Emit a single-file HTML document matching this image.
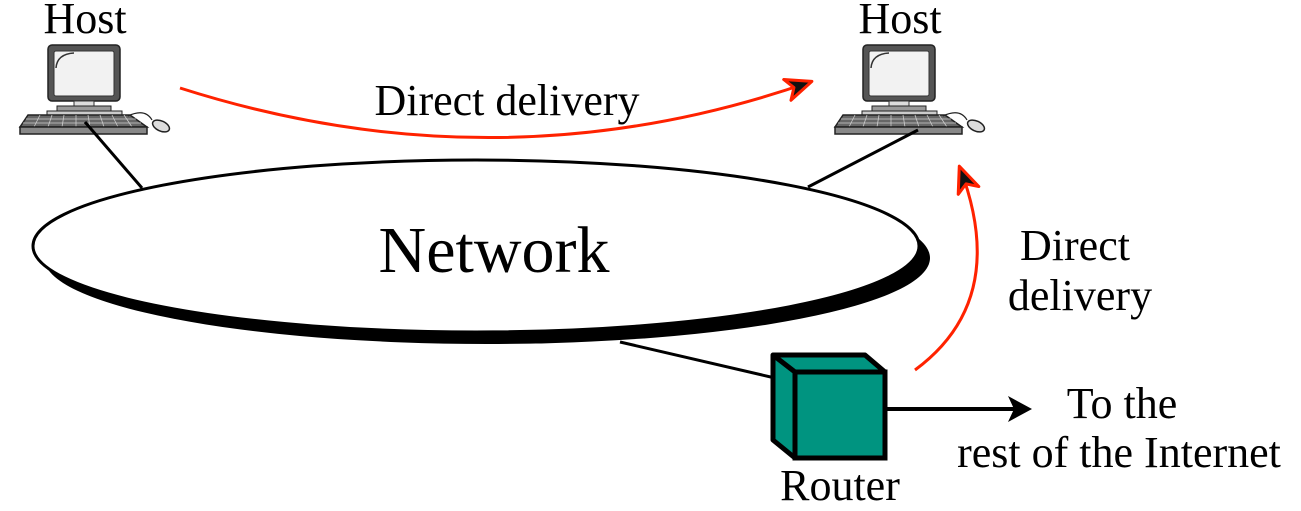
<!DOCTYPE html>
<html><head><meta charset="utf-8"><style>
html,body{margin:0;padding:0;background:#fff;width:1301px;height:511px;overflow:hidden}
svg{display:block}
text{font-family:"Liberation Serif",serif;fill:#000}
</style></head><body>
<svg width="1301" height="511" viewBox="0 0 1301 511" xmlns="http://www.w3.org/2000/svg">
<defs>
<g id="host">
  <rect x="48" y="45" width="72" height="56" rx="4" fill="#555" stroke="#222" stroke-width="1.5"/>
  <rect x="54" y="51" width="60" height="45" rx="2" fill="#f2f2f2" stroke="#333" stroke-width="1"/>
  <path d="M56 68 Q57 54 74 53" fill="none" stroke="#333" stroke-width="1.5"/>
  <rect x="74" y="101" width="20" height="6" fill="#ddd" stroke="#333"/>
  <rect x="57" y="106" width="54" height="5" fill="#999" stroke="#222"/>
  <rect x="47" y="111" width="75" height="5" fill="#ccc" stroke="#222"/>
  <polygon points="28,115 130,115 147,127 20,127" fill="#666" stroke="#222" stroke-width="1.5"/>
  <g stroke="#ccc" stroke-width="0.8">
    <line x1="26" y1="119" x2="136" y2="119"/><line x1="23" y1="123" x2="141" y2="123"/>
    <line x1="40" y1="115" x2="34" y2="127"/><line x1="52" y1="115" x2="48" y2="127"/>
    <line x1="64" y1="115" x2="62" y2="127"/><line x1="76" y1="115" x2="76" y2="127"/>
    <line x1="88" y1="115" x2="90" y2="127"/><line x1="100" y1="115" x2="104" y2="127"/>
    <line x1="112" y1="115" x2="118" y2="127"/><line x1="124" y1="115" x2="132" y2="127"/>
  </g>
  <rect x="20" y="127" width="127" height="7" fill="#888" stroke="#222" stroke-width="1.5"/>
  <path d="M128 116 Q145 108 152 120" fill="none" stroke="#222" stroke-width="1.2"/>
  <ellipse cx="161" cy="126" rx="9" ry="5" transform="rotate(25 161 126)" fill="#ddd" stroke="#222" stroke-width="1.5"/>
</g>
<marker id="ah" markerWidth="30" markerHeight="26" refX="26" refY="13" orient="auto" markerUnits="userSpaceOnUse" viewBox="0 0 30 26">
  <path d="M2,2 L28,13 L2,24 L9,13 Z" fill="#111" stroke="#f20" stroke-width="3" stroke-linejoin="round"/>
</marker>
</defs>

<text x="85" y="33" font-size="44" text-anchor="middle">Host</text>
<text x="900" y="33" font-size="44" text-anchor="middle">Host</text>
<use href="#host"/>
<use href="#host" transform="translate(815,0)"/>

<line x1="85" y1="122" x2="142" y2="188" stroke="#000" stroke-width="3"/>
<line x1="918" y1="130" x2="808" y2="187" stroke="#000" stroke-width="3"/>
<line x1="620" y1="342" x2="775" y2="378" stroke="#000" stroke-width="3"/>

<ellipse cx="487" cy="258" rx="443" ry="86" fill="#000"/>
<ellipse cx="476" cy="246" rx="443" ry="86" fill="#fff" stroke="#000" stroke-width="3"/>
<text x="494" y="272" font-size="66" text-anchor="middle">Network</text>

<path d="M180 88 Q500 190 810 82" fill="none" stroke="#f20" stroke-width="3" marker-end="url(#ah)"/>
<text x="507" y="115" font-size="44" text-anchor="middle">Direct delivery</text>

<path d="M915 370 Q1010 300 960 168" fill="none" stroke="#f20" stroke-width="3" marker-end="url(#ah)"/>
<text x="1075" y="260" font-size="44" text-anchor="middle">Direct</text>
<text x="1080" y="310" font-size="44" text-anchor="middle">delivery</text>

<polygon points="773,355 865,355 885,372 885,458 795,458 773,440" fill="#009480" stroke="#000" stroke-width="5" stroke-linejoin="round"/>
<rect x="795" y="372" width="90" height="86" fill="#009480" stroke="#000" stroke-width="5"/>
<line x1="773" y1="355" x2="795" y2="372" stroke="#000" stroke-width="5"/>
<text x="840" y="500" font-size="44" text-anchor="middle">Router</text>

<line x1="885" y1="409" x2="1018" y2="409" stroke="#000" stroke-width="4"/>
<polygon points="1032,409 1008,396 1014,409 1008,422" fill="#000"/>
<text x="1122" y="418" font-size="44" text-anchor="middle">To the</text>
<text x="1119" y="467" font-size="44" text-anchor="middle">rest of the Internet</text>
</svg>
</body></html>
